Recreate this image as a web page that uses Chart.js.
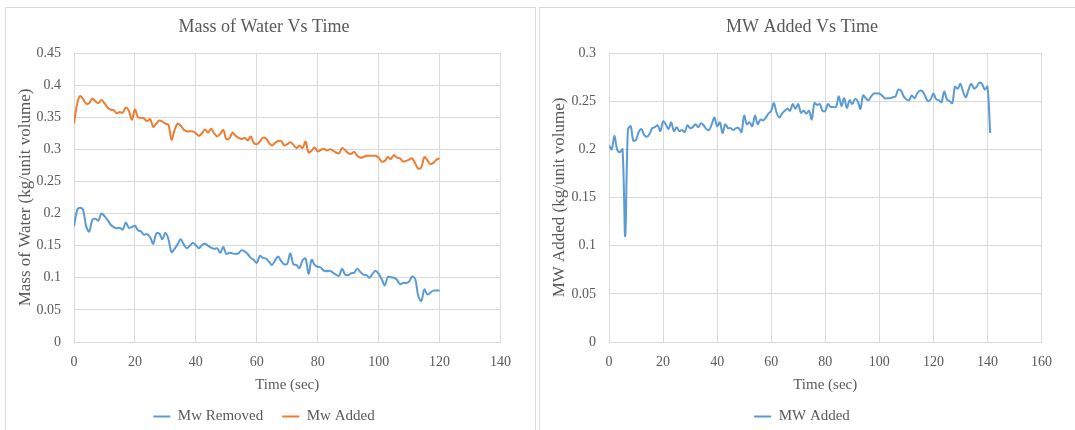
<!DOCTYPE html>
<html>
<head>
<meta charset="utf-8">
<script src="https://cdn.jsdelivr.net/npm/chart.js@4/dist/chart.umd.min.js"></script>
<style>
  html, body { margin: 0; padding: 0; background: #ffffff; width: 1075px; height: 430px; overflow: hidden; }
  .panel { position: absolute; border: 1px solid #d9d9d9; box-sizing: border-box; background: #fff; }
  canvas { position: absolute; }
</style>
</head>
<body>
<div class="panel" style="left:5px; top:7px; width:531px; height:440px;"></div>
<div class="panel" style="left:539px; top:7px; width:560px; height:440px;"></div>
<canvas id="left" width="518" height="427" style="left:5px; top:7px;"></canvas>
<canvas id="right" width="524" height="427" style="left:540px; top:7px;"></canvas>
<script>
// ---- Data ----
const timeSec = [0,1,2,3,4,5,6,7,8,9,10,11,12,13,14,15,16,17,18,19,20,21,22,23,24,25,26,27,28,29,30,31,32,33,34,35,36,37,38,39,40,41,42,43,44,45,46,47,48,49,50,51,52,53,54,55,56,57,58,59,60,61,62,63,64,65,66,67,68,69,70,71,72,73,74,75,76,77,78,79,80,81,82,83,84,85,86,87,88,89,90,91,92,93,94,95,96,97,98,99,100,101,102,103,104,105,106,107,108,109,110,111,112,113,114,115,116,117,118,119,120,121,122,123,124,125,126,127,128,129,130,131,132,133,134,135,136,137,138,139,140,141];

const mwRemoved = [
0.180,0.205,0.209,0.205,0.180,0.172,0.190,0.192,0.189,0.200,
0.196,0.190,0.183,0.179,0.177,0.178,0.175,0.186,0.178,0.179,
0.181,0.174,0.172,0.167,0.168,0.163,0.153,0.169,0.169,0.160,
0.170,0.160,0.140,0.145,0.152,0.160,0.152,0.146,0.150,0.154,
0.151,0.146,0.151,0.153,0.150,0.147,0.145,0.146,0.139,0.148,
0.137,0.139,0.138,0.137,0.138,0.143,0.141,0.137,0.131,0.128,
0.123,0.134,0.131,0.130,0.125,0.120,0.127,0.133,0.126,0.121,
0.122,0.138,0.121,0.120,0.115,0.127,0.130,0.106,0.128,0.120,
0.117,0.116,0.111,0.110,0.111,0.108,0.105,0.103,0.114,0.105,
0.104,0.107,0.108,0.114,0.109,0.105,0.104,0.100,0.106,0.111,
0.106,0.098,0.088,0.101,0.101,0.100,0.097,0.090,0.092,0.092,
0.094,0.102,0.098,0.072,0.064,0.082,0.074,0.077,0.080,0.080,
0.080];

const mwAddedLeft = [
0.340,0.370,0.383,0.378,0.371,0.372,0.379,0.375,0.372,0.377,
0.372,0.365,0.362,0.361,0.356,0.358,0.357,0.365,0.360,0.346,
0.362,0.350,0.349,0.348,0.344,0.347,0.335,0.340,0.345,0.343,
0.340,0.338,0.315,0.330,0.340,0.337,0.331,0.328,0.328,0.328,
0.325,0.321,0.325,0.331,0.326,0.332,0.325,0.320,0.324,0.330,
0.316,0.317,0.326,0.321,0.318,0.316,0.318,0.314,0.320,0.310,
0.308,0.312,0.318,0.317,0.310,0.306,0.310,0.313,0.313,0.306,
0.308,0.311,0.307,0.302,0.306,0.302,0.312,0.295,0.298,0.303,
0.297,0.299,0.301,0.298,0.300,0.298,0.295,0.294,0.302,0.299,
0.294,0.293,0.296,0.290,0.287,0.288,0.290,0.290,0.290,0.290,
0.287,0.281,0.282,0.288,0.285,0.291,0.287,0.286,0.281,0.282,
0.284,0.286,0.278,0.270,0.272,0.288,0.283,0.277,0.279,0.284,
0.286];

const mwAddedRight = [
0.204,0.200,0.214,0.200,0.197,0.200,0.110,0.220,0.224,0.209,
0.210,0.218,0.221,0.215,0.213,0.216,0.222,0.223,0.225,0.219,
0.229,0.226,0.221,0.228,0.219,0.223,0.219,0.220,0.218,0.225,
0.222,0.223,0.226,0.223,0.227,0.225,0.221,0.220,0.226,0.233,
0.224,0.228,0.217,0.226,0.222,0.222,0.220,0.222,0.222,0.218,
0.235,0.226,0.228,0.224,0.235,0.226,0.231,0.230,0.233,0.237,
0.240,0.248,0.238,0.233,0.237,0.240,0.242,0.240,0.247,0.242,
0.247,0.238,0.240,0.237,0.240,0.231,0.248,0.246,0.247,0.240,
0.240,0.247,0.244,0.244,0.244,0.255,0.245,0.253,0.243,0.251,
0.247,0.252,0.250,0.242,0.256,0.253,0.251,0.255,0.258,0.258,
0.258,0.256,0.253,0.253,0.253,0.254,0.255,0.262,0.261,0.255,
0.252,0.251,0.256,0.253,0.258,0.261,0.260,0.255,0.250,0.252,
0.258,0.252,0.251,0.249,0.260,0.252,0.250,0.248,0.265,0.263,
0.268,0.260,0.254,0.262,0.268,0.263,0.265,0.269,0.268,0.262,
0.265,0.217];

const leftXTicks  = ['0','20','40','60','80','100','120','140'];
const leftYTicks  = ['0','0.05','0.1','0.15','0.2','0.25','0.3','0.35','0.4','0.45'];
const rightXTicks = ['0','20','40','60','80','100','120','140','160'];
const rightYTicks = ['0','0.05','0.1','0.15','0.2','0.25','0.3'];

const leftTitle = 'Mass of Water Vs Time';
const rightTitle = 'MW Added Vs Time';
const xTitle = 'Time (sec)';
const leftYTitle = 'Mass of Water (kg/unit volume)';
const rightYTitle = 'MW Added (kg/unit volume)';
const seriesNames = ['Mw Removed', 'Mw Added', 'MW Added'];

// ---- Styling ----
const FONT = "'Liberation Serif', 'Times New Roman', serif";
const TEXT = '#595959';
const GRID = '#d9d9d9';
const BLUE = '#5b9bd5';
const ORANGE = '#ed7d31';

function pts(xs, ys) { return ys.map((y, i) => ({x: xs[i], y: y})); }
function labelFor(list) {
  return v => { const f = list.find(l => Math.abs(parseFloat(l) - v) < 1e-9); return f === undefined ? '' : f; };
}

function makeChart(id, datasets, o) {
  return new Chart(document.getElementById(id), {
    type: 'line',
    data: { datasets: datasets.map(d => ({
      label: d.label, data: d.data, borderColor: d.color, backgroundColor: d.color,
      borderWidth: 2, pointRadius: 0, pointHoverRadius: 0, tension: 0.35,
      pointStyle: 'line', fill: false
    })) },
    options: {
      responsive: false, animation: false, devicePixelRatio: 1,
      layout: { padding: 0 },
      plugins: {
        tooltip: { enabled: false },
        title: { display: true, text: o.title, color: TEXT,
                 font: { family: FONT, size: 18, weight: 'normal', lineHeight: 1.2 },
                 padding: { top: 9, bottom: 15.4 } },
        legend: { position: 'bottom',
                  labels: { usePointStyle: true, pointStyleWidth: 17, boxHeight: 2, padding: 19,
                            color: TEXT, font: { family: FONT, size: 15 } } }
      },
      scales: {
        x: { type: 'linear', min: 0, max: o.xMax,
             ticks: { stepSize: 20, color: TEXT, padding: 12, font: { family: FONT, size: 14 },
                      callback: labelFor(o.xTicks), maxRotation: 0, autoSkip: false },
             grid: { color: GRID, drawTicks: false, lineWidth: 1 },
             border: { color: GRID },
             title: { display: true, text: xTitle, color: TEXT, font: { family: FONT, size: 15, lineHeight: 1.2 },
                      padding: { top: 0, bottom: -4 } },
             afterFit: s => { s.height = 48; } },
        y: { type: 'linear', min: 0, max: o.yMax,
             ticks: { stepSize: 0.05, color: TEXT, padding: 13, font: { family: FONT, size: 14 },
                      callback: labelFor(o.yTicks), autoSkip: false },
             grid: { color: GRID, drawTicks: false, lineWidth: 1 },
             border: { color: GRID },
             title: { display: true, text: o.yTitle, color: TEXT, font: { family: FONT, size: 17, lineHeight: 1.2 },
                      padding: { top: o.yTitlePad, bottom: 0 } },
             afterFit: s => { s.width = 69; } },
        // empty spacer on the right so the plot ends where the reference's does
        spacer: { type: 'linear', position: 'right', display: true,
                  grid: { display: false, drawTicks: false }, border: { display: false },
                  ticks: { display: false }, title: { display: false },
                  afterFit: s => { s.width = o.rightGap; } }
      }
    }
  });
}

makeChart('left', [
  { label: seriesNames[0], data: pts(timeSec, mwRemoved), color: BLUE },
  { label: seriesNames[1], data: pts(timeSec, mwAddedLeft), color: ORANGE }
], { title: leftTitle, yTitle: leftYTitle, xMax: 140, yMax: 0.45, xTicks: leftXTicks, yTicks: leftYTicks,
     rightGap: 21, yTitlePad: 10 });

makeChart('right', [
  { label: seriesNames[2], data: pts(timeSec, mwAddedRight), color: BLUE }
], { title: rightTitle, yTitle: rightYTitle, xMax: 160, yMax: 0.3, xTicks: rightXTicks, yTicks: rightYTicks,
     rightGap: 20, yTitlePad: 9 });
</script>
</body>
</html>
